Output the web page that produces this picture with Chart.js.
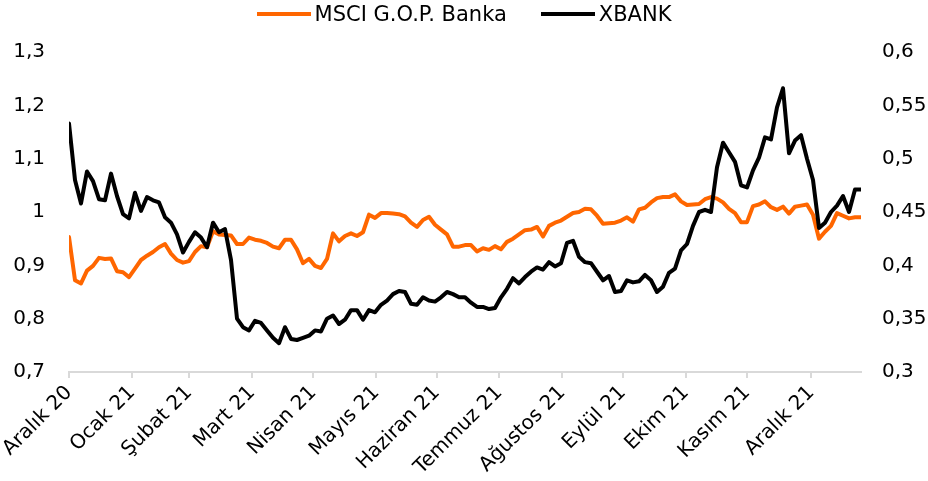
<!DOCTYPE html>
<html lang="tr">
<head>
<meta charset="utf-8">
<script src="https://cdn.jsdelivr.net/npm/chart.js@4.4.1/dist/chart.umd.min.js"></script>
<style>
    html, body { margin: 0; padding: 0; background: #fff; }
    #wrap { position: relative; width: 928px; height: 481px; }
    #legend {
        position: absolute; top: 0; left: 0; width: 928px;
        display: flex; justify-content: center;
        font-family: "DejaVu Sans", sans-serif; font-size: 21px; line-height: 28px; color: #000;
    }
    .item { display: flex; align-items: center; margin: 0 17px; }
    .swatch { width: 54px; height: 4px; margin-right: 4px; }
    canvas { display: block; }
</style>
</head>
<body>
<div id="wrap">
    <div id="legend"></div>
    <canvas id="myChart" width="928" height="481"></canvas>
</div>
<script>
// month labels and where each month starts along the series
const monthLabels = ['Aralık 20', 'Ocak 21', 'Şubat 21', 'Mart 21', 'Nisan 21', 'Mayıs 21',
    'Haziran 21', 'Temmuz 21', 'Ağustos 21', 'Eylül 21', 'Ekim 21', 'Kasım 21', 'Aralık 21'];
const monthTicks = [0, 10.5, 20, 30.5, 40.7, 51.2, 61.3, 71.7, 82.2, 92.3, 102.8, 113, 123.7];

// MSCI G.O.P. Banka (left axis)
const msci = [
    0.953, 0.872, 0.866, 0.890, 0.899, 0.914, 0.912, 0.913, 0.889, 0.887,
    0.878, 0.894, 0.910, 0.918, 0.925, 0.934, 0.940, 0.922, 0.910, 0.905,
    0.908, 0.925, 0.936, 0.934, 0.964, 0.958, 0.957, 0.956, 0.940, 0.940,
    0.952, 0.948, 0.946, 0.942, 0.935, 0.932, 0.948, 0.948, 0.930, 0.904,
    0.912, 0.899, 0.895, 0.912, 0.960, 0.945, 0.955, 0.960, 0.955, 0.962,
    0.995, 0.989, 0.998, 0.998, 0.997, 0.996, 0.992, 0.980, 0.972, 0.985,
    0.991, 0.976, 0.967, 0.958, 0.935, 0.935, 0.938, 0.938, 0.926, 0.932,
    0.929, 0.936, 0.930, 0.944, 0.950, 0.958, 0.966, 0.967, 0.972, 0.954,
    0.974, 0.980, 0.984, 0.991, 0.998, 1.000, 1.006, 1.005, 0.993, 0.978,
    0.979, 0.980, 0.984, 0.990, 0.982, 1.005, 1.008, 1.018, 1.026, 1.028,
    1.028, 1.033, 1.020, 1.013, 1.014, 1.015, 1.024, 1.028, 1.025, 1.018,
    1.006, 0.998, 0.981, 0.981, 1.011, 1.014, 1.020, 1.009, 1.004, 1.010,
    0.997, 1.010, 1.012, 1.014, 0.995, 0.950, 0.963, 0.974, 0.998, 0.993,
    0.988, 0.990, 0.990
];

// XBANK (right axis)
const xbank = [
    0.533, 0.480, 0.458, 0.488, 0.479, 0.462, 0.461, 0.486, 0.465, 0.448,
    0.444, 0.468, 0.451, 0.464, 0.461, 0.459, 0.445, 0.440, 0.429, 0.412,
    0.422, 0.431, 0.426, 0.417, 0.440, 0.431, 0.434, 0.405, 0.350, 0.342,
    0.339, 0.348, 0.346, 0.339, 0.332, 0.327, 0.342, 0.331, 0.330, 0.332,
    0.334, 0.339, 0.338, 0.350, 0.353, 0.345, 0.349, 0.358, 0.358, 0.349,
    0.358, 0.356, 0.363, 0.367, 0.373, 0.376, 0.375, 0.364, 0.363, 0.370,
    0.367, 0.366, 0.370, 0.375, 0.373, 0.370, 0.370, 0.365, 0.361, 0.361,
    0.359, 0.360, 0.370, 0.378, 0.388, 0.383, 0.389, 0.394, 0.398, 0.396,
    0.403, 0.399, 0.402, 0.421, 0.423, 0.408, 0.403, 0.402, 0.394, 0.386,
    0.390, 0.375, 0.376, 0.386, 0.384, 0.385, 0.391, 0.386, 0.375, 0.380,
    0.393, 0.397, 0.414, 0.420, 0.437, 0.450, 0.452, 0.450, 0.492, 0.515,
    0.506, 0.497, 0.475, 0.473, 0.489, 0.501, 0.520, 0.518, 0.548, 0.566,
    0.505, 0.517, 0.522, 0.500, 0.480, 0.435, 0.440, 0.450, 0.456, 0.465,
    0.450, 0.471, 0.471
];

const FONT = '"DejaVu Sans", sans-serif';
Chart.defaults.font.family = FONT;
Chart.defaults.font.size = 20;
Chart.defaults.color = '#000';

function toPoints(values) {
    return values.map(function(v, i) { return { x: i, y: v }; });
}

function commaLabel(digits) {
    return function(value) {
        var f = Math.pow(10, digits);
        return String(Math.round(value * f) / f).replace('.', ',');
    };
}

var ctx = document.getElementById('myChart').getContext('2d');
var chart = new Chart(ctx, {
    type: 'line',
    data: {
        datasets: [{
            label: 'MSCI G.O.P. Banka',
            data: toPoints(msci),
            yAxisID: 'y',
            borderColor: '#ff6600',
            backgroundColor: '#ff6600',
            borderWidth: 4,
            pointRadius: 0,
            tension: 0,
            borderJoinStyle: 'round',
            borderCapStyle: 'round',
            order: 2
        }, {
            label: 'XBANK',
            data: toPoints(xbank),
            yAxisID: 'y1',
            borderColor: '#000000',
            backgroundColor: '#000000',
            borderWidth: 4,
            pointRadius: 0,
            tension: 0,
            borderJoinStyle: 'round',
            borderCapStyle: 'round',
            order: 1
        }]
    },
    options: {
        responsive: false,
        animation: false,
        layout: { padding: { top: 52, left: 0, right: 0, bottom: 0 } },
        plugins: {
            legend: { display: false },
            tooltip: { enabled: false }
        },
        scales: {
            x: {
                type: 'linear',
                min: 0,
                max: msci.length - 1,
                afterBuildTicks: function(scale) {
                    scale.ticks = monthTicks.map(function(v) { return { value: v }; });
                },
                afterFit: function(scale) { scale.height = 109; },
                ticks: {
                    autoSkip: false,
                    minRotation: 45,
                    maxRotation: 45,
                    padding: 3,
                    callback: function(value, index) { return monthLabels[index]; }
                },
                grid: {
                    display: true,
                    drawOnChartArea: false,
                    drawTicks: true,
                    tickLength: 6,
                    color: '#d9d9d9',
                    lineWidth: 2
                },
                border: { display: true, color: '#d9d9d9', width: 2 }
            },
            y: {
                position: 'left',
                min: 0.7,
                max: 1.3,
                afterFit: function(scale) { scale.width = 69; },
                ticks: { stepSize: 0.1, padding: 24, callback: commaLabel(1) },
                grid: { display: false, drawTicks: false },
                border: { display: false }
            },
            y1: {
                position: 'right',
                min: 0.3,
                max: 0.6,
                afterFit: function(scale) { scale.width = 67; },
                ticks: { stepSize: 0.05, padding: 21, callback: commaLabel(2) },
                grid: { display: false, drawTicks: false },
                border: { display: false }
            }
        }
    }
});

// legend in the page, built from the datasets
var legend = document.getElementById('legend');
chart.data.datasets.forEach(function(ds) {
    var item = document.createElement('div');
    item.className = 'item';
    var swatch = document.createElement('span');
    swatch.className = 'swatch';
    swatch.style.background = ds.borderColor;
    var text = document.createElement('span');
    text.textContent = ds.label;
    item.appendChild(swatch);
    item.appendChild(text);
    legend.appendChild(item);
});
</script>
</body>
</html>
